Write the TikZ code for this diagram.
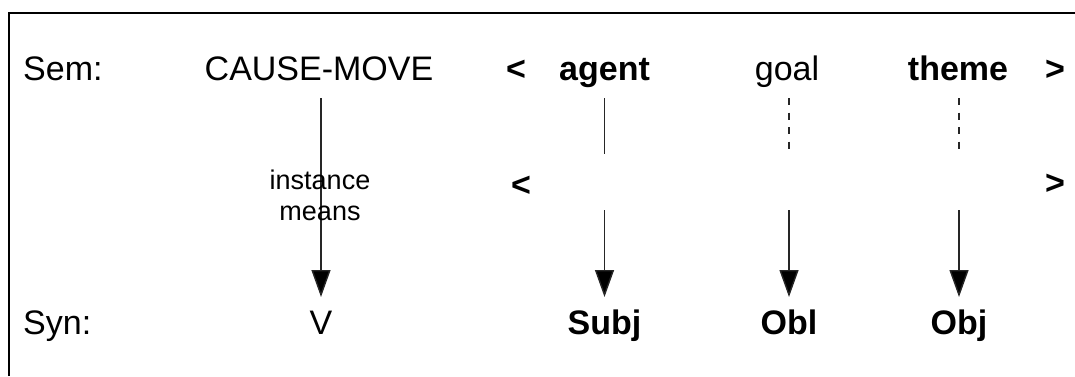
\documentclass[tikz,border=0pt]{standalone}
\usepackage{fontspec}
\setmainfont{Liberation Sans}
\usetikzlibrary{arrows.meta}

\begin{document}
\begin{tikzpicture}[x=1pt,y=-1pt,
  lbl/.style={inner sep=0pt,anchor=base,font=\fontsize{34}{40}\selectfont},
  blbl/.style={lbl,font=\fontsize{34}{40}\selectfont\bfseries},
  small/.style={inner sep=0pt,align=center,font=\fontsize{27}{31}\selectfont},
  link/.style={line width=1.4pt,draw=black!85},
  dlink/.style={link,dash pattern=on 7pt off 7.5pt},
  arr/.style={link,-{Triangle[width=19pt,length=27pt,fill=black]}}]
  \useasboundingbox (0,0) rectangle (1075,376);

  % frame
  \draw[line width=2pt] (8.5,376) -- (8.5,12.5) -- (1075,12.5);

  % semantic row
  \node[lbl,anchor=base west] (sem) at (23,80) {Sem:};
  \node[lbl] (cause) at (319,80) {CAUSE-MOVE};
  \node[blbl] (lt1) at (516,80) {<};
  \node[blbl] (agent) at (604.5,80) {agent};
  \node[lbl] (goal) at (787,80) {goal};
  \node[blbl] (theme) at (958,80) {theme};
  \node[blbl] (gt1) at (1055,80) {>};

  % middle row
  \node[blbl] (lt2) at (521,196) {<};
  \node[blbl] (gt2) at (1055,194) {>};

  % syntactic row
  \node[lbl,anchor=base west] (syn) at (23,334) {Syn:};
  \node[lbl] (v) at (321,334) {V};
  \node[blbl] (subj) at (604.5,334) {Subj};
  \node[blbl] (obl) at (789,334) {Obl};
  \node[blbl] (obj) at (959,334) {Obj};

  % levels of the connectors
  \coordinate (top) at (0,98);
  \coordinate (cut) at (0,154);
  \coordinate (resume) at (0,210);
  \coordinate (tip) at (0,297);

  % CAUSE-MOVE to V
  \draw[arr] (v.base |- top) -- (v.base |- tip);
  \node[small,anchor=north] (inst) at (320,170) {instance\\means};

  % role links
  \draw[link] (subj.base |- top) -- (subj.base |- cut);
  \draw[dlink] (obl.base |- top) -- (obl.base |- cut);
  \draw[dlink] (obj.base |- top) -- (obj.base |- cut);

  % argument arrows
  \draw[arr] (subj.base |- resume) -- (subj.base |- tip);
  \draw[arr] (obl.base |- resume) -- (obl.base |- tip);
  \draw[arr] (obj.base |- resume) -- (obj.base |- tip);
\end{tikzpicture}
\end{document}
